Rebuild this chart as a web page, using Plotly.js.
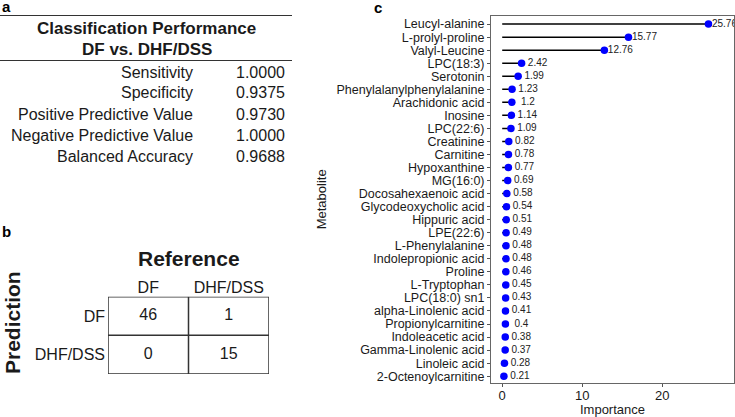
<!DOCTYPE html>
<html>
<head>
<meta charset="utf-8">
<script src="https://cdn.plot.ly/plotly-3.0.1.min.js"></script>
<style>
  html, body { margin: 0; padding: 0; background: #ffffff; }
  #chart { width: 735px; height: 417px; }
</style>
</head>
<body>
<div id="chart"></div>
<script>
// ---- Panel a: classification performance, DF vs. DHF/DSS ----
const metricNames = ["Sensitivity", "Specificity", "Positive Predictive Value",
                     "Negative Predictive Value", "Balanced Accuracy"];
const metricValues = [1.0000, 0.9375, 0.9730, 1.0000, 0.9688];

// ---- Panel b: confusion matrix (rows = prediction, columns = reference) ----
const refLevels = ["DF", "DHF/DSS"];
const predLevels = ["DF", "DHF/DSS"];
const counts = [[46, 1],
                [0, 15]];

// ---- Panel c: variable importance of metabolites ----
const metabolites = ["Leucyl-alanine", "L-prolyl-proline", "Valyl-Leucine", "LPC(18:3)",
  "Serotonin", "Phenylalanylphenylalanine", "Arachidonic acid", "Inosine", "LPC(22:6)",
  "Creatinine", "Carnitine", "Hypoxanthine", "MG(16:0)", "Docosahexaenoic acid",
  "Glycodeoxycholic acid", "Hippuric acid", "LPE(22:6)", "L-Phenylalanine",
  "Indolepropionic acid", "Proline", "L-Tryptophan", "LPC(18:0) sn1",
  "alpha-Linolenic acid", "Propionylcarnitine", "Indoleacetic acid",
  "Gamma-Linolenic acid", "Linoleic acid", "2-Octenoylcarnitine"];
const importance = [25.76, 15.77, 12.76, 2.42, 1.99, 1.23, 1.2, 1.14, 1.09, 0.82, 0.78,
  0.77, 0.69, 0.58, 0.54, 0.51, 0.49, 0.48, 0.48, 0.46, 0.45, 0.43, 0.41, 0.4, 0.38,
  0.37, 0.28, 0.21];
const xTicks = [0, 10, 20];

const W = 735, H = 417;
const FONT = "Liberation Sans, Arial, sans-serif";
const INK = "#1a1a1a";
const px = v => v / W;          // pixel -> paper x
const py = v => 1 - v / H;      // pixel -> paper y

// lollipop stems from 0 to each value
const stemX = [], stemY = [];
metabolites.forEach((m, i) => {
  stemX.push(0, importance[i], null);
  stemY.push(m, m, null);
});
const labelNudge = 2;

const traces = [
  { type: "scatter", mode: "lines", x: stemX, y: stemY,
    line: { color: "#000000", width: 1.5 }, hoverinfo: "skip",
    xaxis: "x", yaxis: "y" },
  { type: "scatter", mode: "markers", x: importance, y: metabolites,
    marker: { color: "#0000ff", size: 7.5 },
    xaxis: "x", yaxis: "y" },
  { type: "scatter", mode: "text", x: importance.map(v => v + labelNudge), y: metabolites,
    text: importance.map(v => String(v)), textposition: "middle center",
    textfont: { family: FONT, size: 10, color: "#222222" }, cliponaxis: true,
    hoverinfo: "skip", xaxis: "x", yaxis: "y" }
];

// confusion matrix counts
const cmX = [], cmY = [], cmT = [];
predLevels.forEach((p, r) => refLevels.forEach((c, k) => {
  cmX.push(c); cmY.push(p); cmT.push(String(counts[r][k]));
}));
traces.push({ type: "scatter", mode: "text", x: cmX, y: cmY, text: cmT,
  textposition: "middle center", textfont: { family: FONT, size: 16, color: INK },
  hoverinfo: "skip", xaxis: "x2", yaxis: "y2" });

const shapes = [];
// cell borders of the confusion matrix
const nR = predLevels.length, nC = refLevels.length;
shapes.push({ type: "rect", xref: "x2", yref: "y2", x0: -0.5, x1: nC - 0.5,
  y0: -0.5, y1: nR - 0.5, line: { color: "#333333", width: 1.5 } });
for (let k = 1; k < nC; k++) shapes.push({ type: "line", xref: "x2", yref: "y2",
  x0: k - 0.5, x1: k - 0.5, y0: -0.5, y1: nR - 0.5, line: { color: "#333333", width: 1.5 } });
for (let r = 1; r < nR; r++) shapes.push({ type: "line", xref: "x2", yref: "y2",
  x0: -0.5, x1: nC - 0.5, y0: r - 0.5, y1: r - 0.5, line: { color: "#333333", width: 1.5 } });

// rules of the performance table
[15.5, 60.5].forEach(yy => shapes.push({ type: "line", xref: "paper", yref: "paper",
  x0: 0, x1: px(292), y0: py(yy), y1: py(yy), line: { color: "#333333", width: 1 } }));

const annotations = [];
const ann = (text, x, y, opts) => annotations.push(Object.assign({
  text, x: px(x), y: py(y), xref: "paper", yref: "paper", showarrow: false,
  xanchor: "center", yanchor: "middle",
  font: { family: FONT, size: 16, color: INK } }, opts || {}));

// panel letters
ann("<b>a</b>", 0, 6, { xanchor: "left", font: { family: FONT, size: 15, color: "#000" } });
ann("<b>b</b>", 0, 231, { xanchor: "left", font: { family: FONT, size: 15, color: "#000" } });
ann("<b>c</b>", 378, 7, { font: { family: FONT, size: 15, color: "#000" } });

// table a
ann("<b>Classification Performance</b>", 146.5, 28, { font: { family: FONT, size: 17, color: INK } });
ann("<b>DF vs. DHF/DSS</b>", 146.5, 49.5, { font: { family: FONT, size: 17, color: INK } });
const rowTop = 72, rowStep = 21;
metricNames.forEach((name, i) => {
  ann(name, 195, rowTop + i * rowStep, { xanchor: "right" });
  ann(metricValues[i].toFixed(4), 287, rowTop + i * rowStep, { xanchor: "right" });
});

// titles of the confusion matrix
ann("<b>Reference</b>", 188.5, 258, { font: { family: FONT, size: 21, color: INK } });
ann("<b>Prediction</b>", 12, 323, { textangle: -90, font: { family: FONT, size: 21, color: INK } });

const layout = {
  width: W, height: H,
  margin: { l: 0, r: 0, t: 0, b: 0 },
  paper_bgcolor: "#ffffff", plot_bgcolor: "#ffffff",
  showlegend: false,
  font: { family: FONT, color: INK },
  xaxis: {
    domain: [px(491), px(734)], range: [-1.4, 28.95],
    tickmode: "array", tickvals: xTicks, ticks: "outside", ticklen: 3, tickcolor: "#555555",
    ticklabelstandoff: -2,
    tickfont: { family: FONT, size: 13, color: INK },
    showline: true, mirror: true, linecolor: "#666666", linewidth: 1,
    showgrid: false, zeroline: false,
    title: { text: "Importance", font: { family: FONT, size: 13, color: INK }, standoff: 0 }
  },
  yaxis: {
    domain: [py(382.7), py(16)], type: "category", categoryarray: metabolites,
    categoryorder: "array", range: [27.5, -0.62],
    tickmode: "array", tickvals: metabolites, ticktext: metabolites,
    ticks: "outside", ticklen: 3, tickcolor: "#555555",
    tickfont: { family: FONT, size: 12.5, color: INK },
    showline: true, mirror: true, linecolor: "#666666", linewidth: 1,
    showgrid: false, zeroline: false,
    title: { text: "Metabolite", font: { family: FONT, size: 13, color: INK }, standoff: 6 }
  },
  xaxis2: {
    domain: [px(108), px(269)], type: "category", categoryarray: refLevels,
    categoryorder: "array", range: [-0.5, nC - 0.5], side: "top", anchor: "y2",
    ticks: "", tickfont: { family: FONT, size: 16, color: INK },
    showline: false, showgrid: false, zeroline: false, fixedrange: true
  },
  yaxis2: {
    domain: [py(374), py(296.7)], type: "category", categoryarray: predLevels,
    categoryorder: "array", range: [nR - 0.5, -0.5], anchor: "x2",
    ticks: "", ticklabelstandoff: 2, tickfont: { family: FONT, size: 16, color: INK },
    showline: false, showgrid: false, zeroline: false, fixedrange: true
  },
  shapes, annotations
};

Plotly.newPlot("chart", traces, layout, { displayModeBar: false, staticPlot: true });
</script>
</body>
</html>
